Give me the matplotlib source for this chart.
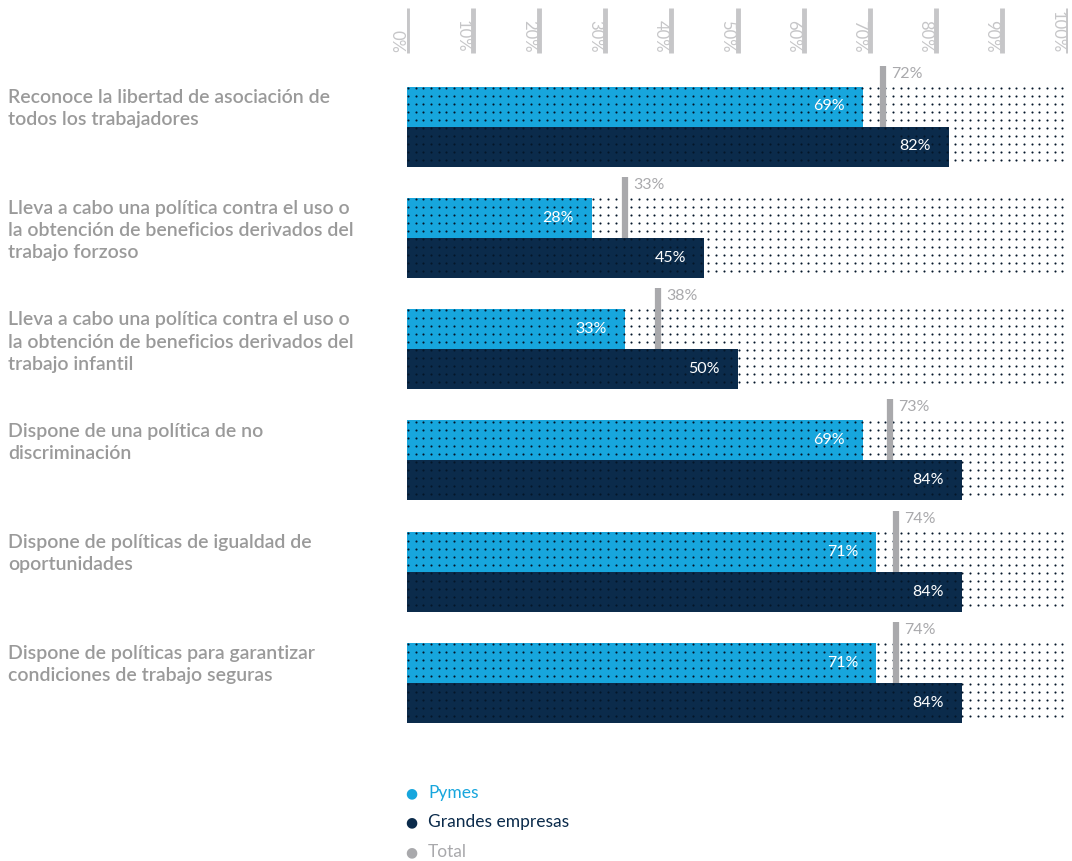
import numpy as np
import matplotlib.pyplot as plt
from matplotlib.transforms import blended_transform_factory

# ---------------- Data ----------------
categories = [
    "Reconoce la libertad de asociación de\ntodos los trabajadores",
    "Lleva a cabo una política contra el uso o\nla obtención de beneficios derivados del\ntrabajo forzoso",
    "Lleva a cabo una política contra el uso o\nla obtención de beneficios derivados del\ntrabajo infantil",
    "Dispone de una política de no\ndiscriminación",
    "Dispone de políticas de igualdad de\noportunidades",
    "Dispone de políticas para garantizar\ncondiciones de trabajo seguras",
]
pymes = [69, 28, 33, 69, 71, 71]
grandes = [82, 45, 50, 84, 84, 84]
total = [72, 33, 38, 73, 74, 74]
ticks = list(range(0, 101, 10))
legend_labels = ["Pymes", "Grandes empresas", "Total"]

# ---------------- Style ----------------
C_PYME = "#17a6dd"
C_GRANDE = "#0b2b4b"
C_DOT = "#041629"
C_TOTAL = "#a9a9ac"
C_LABEL = "#9a9a9a"
C_TICK = "#c6c6c8"
FONT = ["Lato", "DejaVu Sans"]
plt.rcParams["font.family"] = FONT

W, H = 1072, 861
fig = plt.figure(figsize=(W / 100, H / 100), dpi=100)
# x: 0% at 407 px, 100% at 1068 px; y: group index, 111.3 px apart
ax = fig.add_axes([407 / W, 0, 661 / W, 1])
ax.set_xlim(0, 100)
step = 111.3
ax.set_ylim((H - 126.5) / step, -126.5 / step)
ax.axis("off")

bh = 40 / step
n = len(categories)
y = np.arange(n)

# bars
ax.barh(y - bh / 2, pymes, height=bh, color=C_PYME, zorder=1)
ax.barh(y + bh / 2, grandes, height=bh, color=C_GRANDE, zorder=1)

# dotted texture over full row
xs = np.arange(0.15, 100, 7.7 / 6.61)
for i in range(n):
    ys = np.linspace(i - bh + 0.012, i + bh - 0.06, 10)
    gx, gy = np.meshgrid(xs, ys)
    ax.scatter(gx.ravel(), gy.ravel(), s=2.3, color=C_DOT, linewidths=0,
               zorder=2)

# value labels
for i in range(n):
    ax.annotate(f"{pymes[i]}%", (pymes[i], i - bh / 2), xytext=(-13, 0),
                textcoords="offset points", ha="right", va="center",
                color="white", fontsize=11.5, zorder=5)
    ax.annotate(f"{grandes[i]}%", (grandes[i], i + bh / 2), xytext=(-13, 0),
                textcoords="offset points", ha="right", va="center",
                color="white", fontsize=11.5, zorder=5)
    # total marker
    ax.vlines(total[i], i - 61 / step, i, color=C_TOTAL, lw=4.5, zorder=4)
    ax.annotate(f"{total[i]}%", (total[i], i - 53 / step), xytext=(6, 0),
                textcoords="offset points", ha="left", va="center",
                color=C_TOTAL, fontsize=11.5, zorder=5)

# top scale
ax.vlines(ticks, (8 - 126.5) / step, (53 - 126.5) / step, color=C_TICK,
          lw=3.5, zorder=3)
for t in ticks:
    ax.annotate(f"{t}%", (t, (53 - 126.5) / step), xytext=(-7.5, 0),
                textcoords="offset points", ha="center", va="bottom",
                rotation=-90, color=C_TICK, fontsize=12)

# category labels
tr = blended_transform_factory(fig.transFigure, ax.transData)
for i, lab in enumerate(categories):
    ax.text(8 / W, i - bh + 0.02, lab, transform=tr, ha="left", va="top",
            color=C_LABEL, fontsize=14, fontweight="semibold",
            linespacing=1.37)

# legend
for k, (lab, col) in enumerate(zip(legend_labels, [C_PYME, C_GRANDE, C_TOTAL])):
    yy = 1 - (793 + 29.5 * k) / H
    fig.text(411 / W, yy, "\u25cf", color=col, fontsize=10, ha="center",
             va="center", family="DejaVu Sans")
    fig.text(428 / W, yy, lab, color=col, fontsize=12.5, ha="left",
             va="center")

fig.savefig("out.png", dpi=100)
